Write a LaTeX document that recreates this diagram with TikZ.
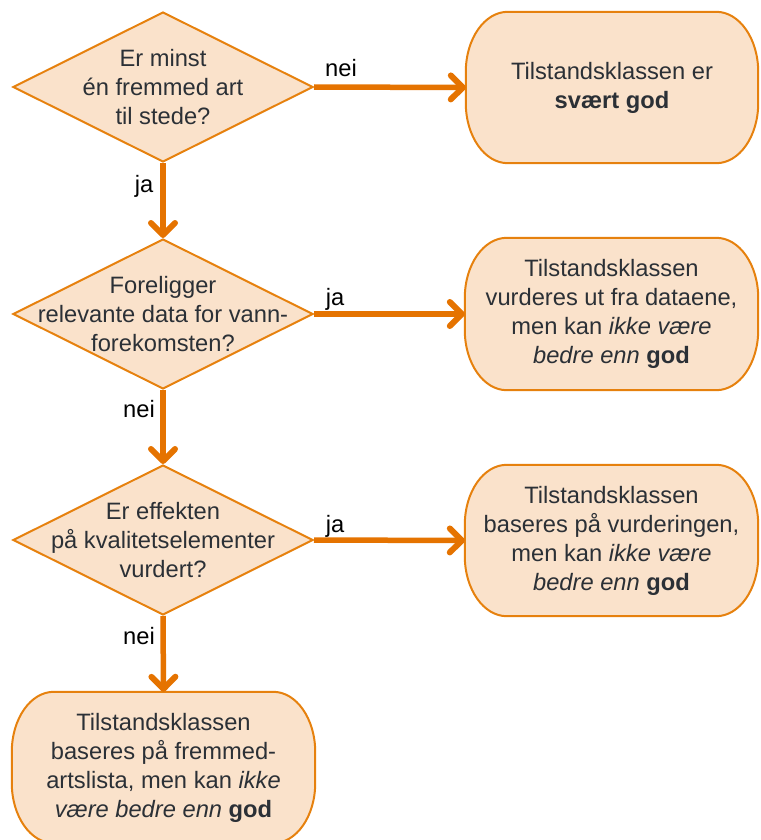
\documentclass[tikz,border=0pt]{standalone}
\usepackage{fontspec}
\setmainfont{Liberation Sans}
\usetikzlibrary{arrows.meta,shapes.geometric,backgrounds}
\definecolor{shapeline}{HTML}{E6810E}
\definecolor{shapefill}{HTML}{FAE2CB}
\definecolor{arrowcol}{HTML}{E57300}
\definecolor{txt}{HTML}{2B3036}
\newcommand\pilloutline[1]{%
  \begin{pgfonlayer}{background}
  \path[draw=shapeline, fill=shapefill, line width=2pt]
    ([xshift=42pt]#1.north west) -- ([xshift=-42pt]#1.north east)
    .. controls ([xshift=-18.8pt]#1.north east) and ([yshift=-26.9pt]#1.north east) .. ([yshift=-60pt]#1.north east)
    -- ([yshift=60pt]#1.south east)
    .. controls ([yshift=26.9pt]#1.south east) and ([xshift=-18.8pt]#1.south east) .. ([xshift=-42pt]#1.south east)
    -- ([xshift=42pt]#1.south west)
    .. controls ([xshift=18.8pt]#1.south west) and ([yshift=26.9pt]#1.south west) .. ([yshift=60pt]#1.south west)
    -- ([yshift=-60pt]#1.north west)
    .. controls ([yshift=-26.9pt]#1.north west) and ([xshift=18.8pt]#1.north west) .. cycle;
  \end{pgfonlayer}}
\begin{document}
\begin{tikzpicture}[x=1pt,y=-1pt,
  decision/.style={diamond, draw=shapeline, fill=shapefill, line width=2pt,
    minimum width=300pt, minimum height=150pt, inner sep=0pt},
  maintext/.style={align=center, text=txt, font=\fontsize{23.7}{29}\selectfont},
  pill/.style={maintext, rectangle, inner sep=0pt},
  conn/.style={draw=arrowcol, line width=5.5pt,
    -{Straight Barb[length=12pt,width=24pt,line width=6pt,round]}},
  lbl/.style={font=\fontsize{23.7}{28}\selectfont, text=black, inner sep=0pt}
]
\useasboundingbox (0,0) rectangle (760,840);

% decisions
\node[decision] (d1) at (163,87) {};
\node[maintext] (d1t) at (d1.center) {Er minst\\én fremmed art\\til stede?};
\node[decision] (d2) at (163,314) {};
\node[maintext] (d2t) at (d2.center) {Foreligger\\relevante data for vann-\\forekomsten?};
\node[decision] (d3) at (163,540) {};
\node[maintext] (d3t) at (d3.center) {Er effekten\\på kvalitetselementer\\vurdert?};

% outcome boxes
\node[pill, minimum width=292pt, minimum height=151pt] (b1) at (612,87.5)
  {Tilstandsklassen er\\\textbf{svært god}};
\pilloutline{b1}
\node[pill, minimum width=293pt, minimum height=152pt] (b2) at (611.5,314)
  {Tilstandsklassen\\vurderes ut fra dataene,\\men kan \textit{ikke være}\\\textit{bedre enn} \textbf{god}};
\pilloutline{b2}
\node[pill, minimum width=293pt, minimum height=151pt] (b3) at (611.5,540.5)
  {Tilstandsklassen\\baseres på vurderingen,\\men kan \textit{ikke være}\\\textit{bedre enn} \textbf{god}};
\pilloutline{b3}
\node[pill, minimum width=303pt, minimum height=151pt] (b4) at (163.5,767.5)
  {Tilstandsklassen\\baseres på fremmed-\\artslista, men kan \textit{ikke}\\\textit{være bedre enn} \textbf{god}};
\pilloutline{b4}

% connectors
\draw[conn] (d1.east) -- (b1.west);
\draw[conn] (d1.south) -- (d2.north);
\draw[conn] (d2.east) -- (b2.west);
\draw[conn] (d2.south) -- (d3.north);
\draw[conn] (d3.east) -- (b3.west);
\draw[conn] (d3.south) -- (b4.north);

% labels
\node[lbl, anchor=base] (l1) at (341,77) {nei};
\node[lbl, anchor=base] (l2) at (144,192) {ja};
\node[lbl, anchor=base] (l3) at (335,305) {ja};
\node[lbl, anchor=base] (l4) at (139,417) {nei};
\node[lbl, anchor=base] (l5) at (335,532) {ja};
\node[lbl, anchor=base] (l6) at (139,644) {nei};
\end{tikzpicture}
\end{document}
